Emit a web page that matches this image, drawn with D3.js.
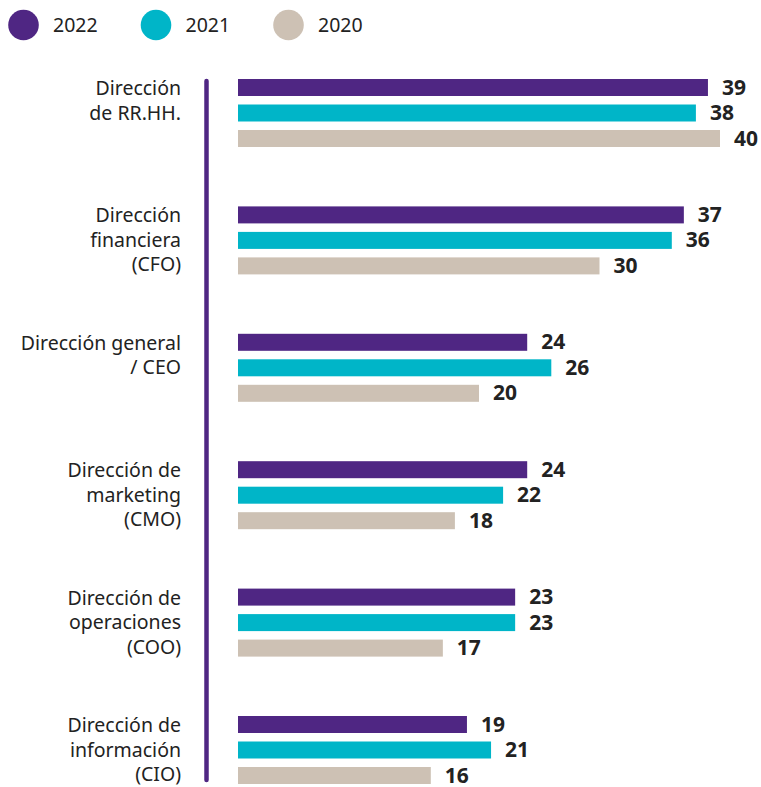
<!DOCTYPE html>
<html>

<head>
    <meta charset="utf-8">
    <style>
        body {
            margin: 0;
            background: #fff;
            font-family: "Noto Sans", sans-serif;
        }
    </style>
    <script src="https://d3js.org/d3.v7.min.js"></script>
</head>

<body>
    <svg width="761" height="787"></svg>

    <script>

        var categories = [
            ["Dirección", "de RR.HH."],
            ["Dirección", "financiera", "(CFO)"],
            ["Dirección general", "/ CEO"],
            ["Dirección de", "marketing", "(CMO)"],
            ["Dirección de", "operaciones", "(COO)"],
            ["Dirección de", "información", "(CIO)"]
        ];
        var series = ["2022", "2021", "2020"];
        var values2022 = [39, 37, 24, 24, 23, 19];
        var values2021 = [38, 36, 26, 22, 23, 21];
        var values2020 = [40, 30, 20, 18, 17, 16];
        var colors = ["#4f2683", "#00b5c8", "#cdc1b4"];

        var allValues = [values2022, values2021, values2020];
        var keys = categories.map(function (c) { return c.join(" "); });

        var svg = d3.select("svg");

        var x = d3.scaleLinear().domain([0, 40]).range([238, 720]);
        var y0 = d3.scaleBand().domain(keys).range([79, 79 + 6 * 127.4]);
        var y1 = d3.scaleBand().domain(series).range([0, 68]).paddingInner(1 / 3);

        // legend
        var legend = svg.append("g").selectAll("g")
            .data(series)
            .enter().append("g")
            .attr("transform", function (d, i) { return "translate(" + (23.5 + i * 132.5) + ",25)"; });
        legend.append("circle").attr("r", 15.3).attr("fill", function (d, i) { return colors[i]; });
        legend.append("text")
            .attr("x", 29.5).attr("y", 7)
            .attr("font-size", 19.5).attr("fill", "#222")
            .text(function (d) { return d; });

        // vertical rule
        svg.append("line")
            .attr("x1", 206.5).attr("x2", 206.5)
            .attr("y1", 81).attr("y2", 780)
            .attr("stroke", "#4f2683").attr("stroke-width", 4.5)
            .attr("stroke-linecap", "round");

        var groups = svg.selectAll("g.group")
            .data(categories)
            .enter().append("g")
            .attr("class", "group")
            .attr("transform", function (d, i) { return "translate(0," + y0(keys[i]) + ")"; });

        groups.append("text")
            .attr("text-anchor", "end")
            .attr("font-size", 19.5).attr("fill", "#222")
            .selectAll("tspan")
            .data(function (d) { return d; })
            .enter().append("tspan")
            .attr("x", 181)
            .attr("y", function (d, i) { return 16 + i * 24.5; })
            .text(function (d) { return d; });

        groups.each(function (c, ci) {
            var g = d3.select(this);
            series.forEach(function (s, si) {
                var v = allValues[si][ci];
                g.append("rect")
                    .attr("x", x(0))
                    .attr("y", y1(s))
                    .attr("width", x(v) - x(0))
                    .attr("height", y1.bandwidth())
                    .attr("fill", colors[si]);
                g.append("text")
                    .attr("x", x(v) + 14)
                    .attr("y", y1(s) + y1.bandwidth() - 1.5)
                    .attr("font-size", 21).attr("font-weight", "bold")
                    .attr("fill", "#222")
                    .text(v);
            });
        });

    </script>

</body>

</html>
